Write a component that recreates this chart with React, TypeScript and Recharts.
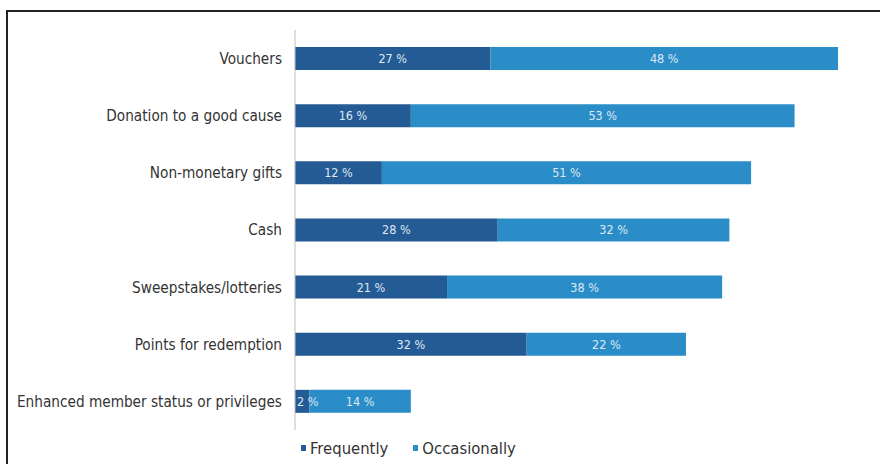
import React from 'react';
import { BarChart, Bar, XAxis, YAxis, LabelList } from 'recharts';

const categories = [
  'Vouchers',
  'Donation to a good cause',
  'Non-monetary gifts',
  'Cash',
  'Sweepstakes/lotteries',
  'Points for redemption',
  'Enhanced member status or privileges',
];
const frequently = [27, 16, 12, 28, 21, 32, 2];
const occasionally = [48, 53, 51, 32, 38, 22, 14];

const DARK = '#255b95';
const LIGHT = '#2a8dc8';
const FONT = '"DejaVu Sans Condensed", "DejaVu Sans", sans-serif';

const data = categories.map((name, i) => ({
  name,
  frequently: frequently[i],
  occasionally: occasionally[i],
}));

// label in the bar; narrow bars get left-aligned text that may spill over
const BarLabel = (props: any) => {
  const { x, y, width, height, value } = props;
  const narrow = width < 25;
  return (
    <text
      x={narrow ? x + 2 : x + width / 2}
      y={y + height / 2}
      textAnchor={narrow ? 'start' : 'middle'}
      dominantBaseline="central"
      fill="#dde8f2"
      fontSize={12.5}
      fontFamily={FONT}
    >
      {`${value} %`}
    </text>
  );
};

const LegendBox: React.FC = () => (
  <div
    style={{
      position: 'absolute',
      left: 301,
      top: 439,
      display: 'flex',
      fontFamily: FONT,
      fontSize: 16.5,
      color: '#333',
    }}
  >
    {[
      { label: 'Frequently', color: DARK },
      { label: 'Occasionally', color: LIGHT },
    ].map((l) => (
      <div key={l.label} style={{ display: 'flex', alignItems: 'flex-start', marginRight: 25 }}>
        <span style={{ width: 5, height: 6, background: l.color, marginTop: 6, marginRight: 4 }} />
        <span>{l.label}</span>
      </div>
    ))}
  </div>
);

const App: React.FC = () => {
  return (
    <div style={{ position: 'absolute', left: 0, top: 0, width: 880, height: 464, background: '#fff' }}>
      <div style={{ position: 'absolute', left: 6, top: 10, width: 874, height: 454, borderTop: '2px solid #222', borderLeft: '2px solid #222' }} />
      <BarChart
        width={880}
        height={464}
        layout="vertical"
        data={data}
        margin={{ top: 30, right: 42, bottom: 34, left: 0 }}
        barSize={23}
        style={{ position: 'absolute', left: 0, top: 0 }}
      >
        <XAxis type="number" domain={[0, 75]} hide />
        <YAxis
          type="category"
          dataKey="name"
          width={295}
          tickLine={false}
          tickSize={0}
          tickMargin={13}
          axisLine={{ stroke: '#bdbdbd' }}
          tick={{ fill: '#333', fontSize: 15.2, fontFamily: FONT }}
          interval={0}
        />
        <Bar dataKey="frequently" stackId="a" fill={DARK} isAnimationActive={false}>
          <LabelList dataKey="frequently" content={BarLabel} />
        </Bar>
        <Bar dataKey="occasionally" stackId="a" fill={LIGHT} isAnimationActive={false}>
          <LabelList dataKey="occasionally" content={BarLabel} />
        </Bar>
      </BarChart>
      <LegendBox />
    </div>
  );
};

export default App;
